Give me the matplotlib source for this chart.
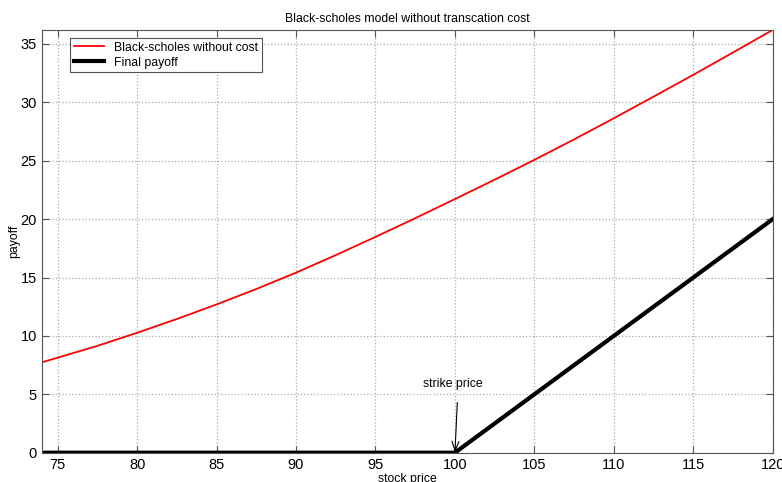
import numpy as np
import matplotlib
matplotlib.use("Agg")
from matplotlib import pyplot as plt

plt.rcParams['font.family'] = ['Liberation Sans', 'DejaVu Sans']

# stock prices and option values
price = [74, 75, 77.5, 80, 82.5, 85, 87.5, 90, 92.5, 95, 97.5,
         100, 102.5, 105, 107.5, 110, 112.5, 115, 117.5, 120]
bs_value = [7.74, 8.14, 9.15, 10.27, 11.45, 12.7, 14.02, 15.42, 16.92, 18.48, 20.08,
            21.72, 23.38, 25.08, 26.83, 28.64, 30.49, 32.36, 34.27, 36.2]

# final payoff max(S-K,0)
payoff_price = [74, 100, 120]
payoff_value = [0, 0, 20]

x_ticks = [75, 80, 85, 90, 95, 100, 105, 110, 115, 120]
y_ticks = [0, 5, 10, 15, 20, 25, 30, 35]

fig = plt.figure(figsize=(7.82, 4.82), dpi=100)
ax = fig.add_axes([0.0535, 0.0608, 0.9346, 0.877])

ax.plot(price, bs_value, color="red", lw=1.3, label="Black-scholes without cost")
ax.plot(payoff_price, payoff_value, color="black", lw=3, label="Final payoff")

ax.set_xlim(74, 120)
ax.set_ylim(0, 36.2)
ax.set_xticks(x_ticks)
ax.set_yticks(y_ticks)
ax.tick_params(direction="in", top=True, right=True, labelsize=10.5, length=5,
               color="#555555")
ax.grid(True, linestyle=":", color="#aaaaaa", lw=0.9)
for s in ax.spines.values():
    s.set_color("#555555")

ax.set_title("Black-scholes model without transcation cost", fontsize=8.8, pad=6)
ax.set_xlabel("stock price", fontsize=8.8, labelpad=1)
ax.set_ylabel("payoff", fontsize=8.8, labelpad=0)

# strike price label + arrow
ax.text(99.85, 5.9, "strike price", ha="center", va="center", fontsize=8.8)
ax.annotate("", xy=(100, 0), xytext=(100.15, 4.3),
            arrowprops=dict(arrowstyle="->,head_length=0.7,head_width=0.25",
                            color="black", lw=0.8, shrinkA=0, shrinkB=0))

leg = ax.legend(loc="upper left", bbox_to_anchor=(0.0386, 0.981), borderaxespad=0,
                fontsize=8.8, fancybox=False, framealpha=1, edgecolor="#555555",
                borderpad=0.3, labelspacing=0.25, handlelength=2.5)
leg.get_frame().set_linewidth(0.8)

fig.savefig("out.png", dpi=100)
